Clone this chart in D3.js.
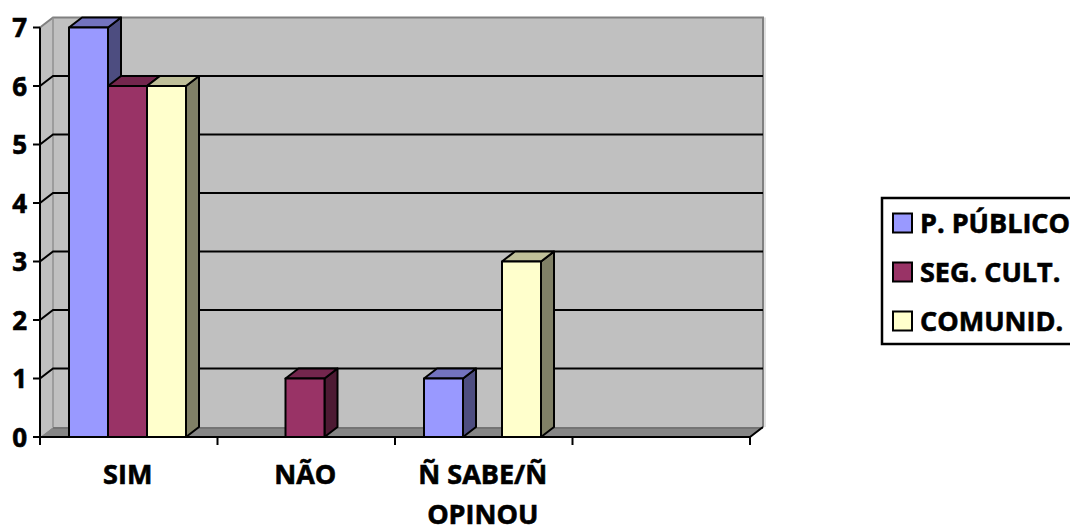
<!DOCTYPE html>
<html>
<head>
<meta charset="utf-8">
<script src="https://cdn.jsdelivr.net/npm/d3@7"></script>
<style>
  body { margin: 0; background: #fff; }
  text { font-family: "Open Sans", Lato, sans-serif; font-weight: bold; fill: #000; stroke: #000; stroke-width: 0.6px; }
</style>
</head>
<body>
<svg id="chart" width="1070" height="529"></svg>
<script>
// categories and series
const categories = ["SIM", "NÃO", "Ñ SABE/Ñ OPINOU", ""];
const seriesNames = ["P. PÚBLICO", "SEG. CULT.", "COMUNID."];
const publico = [7, 0, 1, 0];
const segCult = [6, 1, 0, 0];
const comunid = [6, 0, 3, 0];
const yTicks = [0, 1, 2, 3, 4, 5, 6, 7];

// colours: front, top, side
const colors = [
  { front: "#9999ff", top: "#7373bf", side: "#4d4d80" },
  { front: "#993366", top: "#73264d", side: "#4d1a33" },
  { front: "#ffffcc", top: "#bfbf99", side: "#808066" },
];

const svg = d3.select("#chart");

const left = 40, right = 750, bottom = 437;
const dx = 13, dy = -10; // 3d depth

const x = d3.scaleBand().domain(categories).range([left, right]);
const y = d3.scaleLinear().domain([0, 7]).range([bottom, 27.5]);
const xs = d3.scaleBand().domain(seriesNames).range([29, 29 + 117]);

const yTop = y(7);

// back wall
svg.append("rect")
  .attr("x", left + dx).attr("y", yTop + dy)
  .attr("width", right - left).attr("height", bottom - yTop)
  .attr("fill", "#c0c0c0");

// side wall
svg.append("path")
  .attr("d", `M${left},${yTop}L${left + dx},${yTop + dy}L${left + dx},${bottom + dy}L${left},${bottom}Z`)
  .attr("fill", "#c0c0c0");

// floor
svg.append("path")
  .attr("d", `M${left},${bottom}L${left + dx},${bottom + dy}L${right + dx},${bottom + dy}L${right},${bottom}Z`)
  .attr("fill", "#868686");

// wall edges
svg.append("path")
  .attr("d", `M${left},${yTop}L${left + dx},${yTop + dy}L${right + dx},${yTop + dy}L${right + dx},${bottom + dy}`)
  .attr("fill", "none").attr("stroke", "#808080").attr("stroke-width", 2);
svg.append("line")
  .attr("x1", left + dx).attr("x2", left + dx)
  .attr("y1", yTop + dy).attr("y2", bottom + dy)
  .attr("stroke", "#909090").attr("stroke-width", 1.5);
svg.append("line")
  .attr("x1", left + dx).attr("x2", right + dx)
  .attr("y1", bottom + dy + 1).attr("y2", bottom + dy + 1)
  .attr("stroke", "#6e6e6e").attr("stroke-width", 1.5);
svg.append("line")
  .attr("x1", right + dx + 2).attr("x2", right + dx + 2)
  .attr("y1", yTop + dy).attr("y2", bottom + dy)
  .attr("stroke", "#e0e0e0").attr("stroke-width", 2);

// gridlines
svg.append("g")
  .selectAll("path")
  .data(yTicks.filter((t) => t > 0 && t < 7))
  .join("path")
  .attr("d", (t) => `M${left},${y(t)}L${left + dx},${y(t) + dy}L${right + dx},${y(t) + dy}`)
  .attr("fill", "none")
  .attr("stroke", "#000")
  .attr("stroke-width", 2);

// bars
const bars = [];
[publico, segCult, comunid].forEach((vals, si) => {
  vals.forEach((v, ci) => {
    if (v > 0) bars.push({ cat: categories[ci], s: seriesNames[si], si, v });
  });
});

const g = svg.append("g");
bars.forEach((d) => {
  const x0 = x(d.cat) + xs(d.s);
  const w = xs.bandwidth();
  const y0 = y(d.v);
  const c = colors[d.si];
  const bar = g.append("g")
    .attr("stroke", "#000")
    .attr("stroke-width", 2)
    .attr("stroke-linejoin", "round");
  bar.append("path")
    .attr("d", `M${x0 + w},${bottom}L${x0 + w + dx},${bottom + dy}L${x0 + w + dx},${y0 + dy}L${x0 + w},${y0}Z`)
    .attr("fill", c.side);
  bar.append("path")
    .attr("d", `M${x0},${y0}L${x0 + dx},${y0 + dy}L${x0 + w + dx},${y0 + dy}L${x0 + w},${y0}Z`)
    .attr("fill", c.top);
  bar.append("rect")
    .attr("x", x0).attr("y", y0)
    .attr("width", w).attr("height", bottom - y0)
    .attr("fill", c.front);
});

// axes
svg.append("line")
  .attr("x1", left).attr("x2", left)
  .attr("y1", yTop).attr("y2", bottom)
  .attr("stroke", "#000").attr("stroke-width", 2);
svg.append("path")
  .attr("d", `M${left},${bottom}L${right},${bottom}L${right + dx},${bottom + dy}`)
  .attr("fill", "none").attr("stroke", "#000").attr("stroke-width", 2);

// y ticks + labels
const yt = svg.append("g");
yt.selectAll("line")
  .data(yTicks)
  .join("line")
  .attr("x1", left - 7).attr("x2", left)
  .attr("y1", (t) => y(t)).attr("y2", (t) => y(t))
  .attr("stroke", "#000").attr("stroke-width", 2);
yt.selectAll("text")
  .data(yTicks)
  .join("text")
  .attr("x", 27)
  .attr("y", (t) => y(t) + 9.5)
  .attr("text-anchor", "end")
  .attr("font-size", 26)
  .text((t) => t);

// x ticks
const xTickPos = categories.map((c) => x(c)).concat([right]);
svg.append("g")
  .selectAll("line")
  .data(xTickPos)
  .join("line")
  .attr("x1", (d) => d).attr("x2", (d) => d)
  .attr("y1", bottom).attr("y2", bottom + 8)
  .attr("stroke", "#000").attr("stroke-width", 2);

// x labels (wrapped like the original)
const xLabelLines = { "SIM": ["SIM"], "NÃO": ["NÃO"], "Ñ SABE/Ñ OPINOU": ["Ñ SABE/Ñ", "OPINOU"], "": [] };
const xl = svg.append("g");
categories.forEach((c) => {
  xLabelLines[c].forEach((line, i) => {
    xl.append("text")
      .attr("x", x(c) + x.bandwidth() / 2 - 1)
      .attr("y", 484 + i * 40)
      .attr("text-anchor", "middle")
      .attr("font-size", 27)
      .text(line);
  });
});

// legend
const lg = svg.append("g");
lg.append("rect")
  .attr("x", 882).attr("y", 198)
  .attr("width", 200).attr("height", 146)
  .attr("fill", "#fff").attr("stroke", "#000").attr("stroke-width", 2.5);
seriesNames.forEach((name, i) => {
  const cy = 223 + i * 49;
  lg.append("rect")
    .attr("x", 893).attr("y", cy - 9.5)
    .attr("width", 19).attr("height", 19)
    .attr("fill", colors[i].front)
    .attr("stroke", "#000").attr("stroke-width", 2);
  lg.append("text")
    .attr("x", 920).attr("y", cy + 10)
    .attr("font-size", 27)
    .text(name);
});
</script>
</body>
</html>
